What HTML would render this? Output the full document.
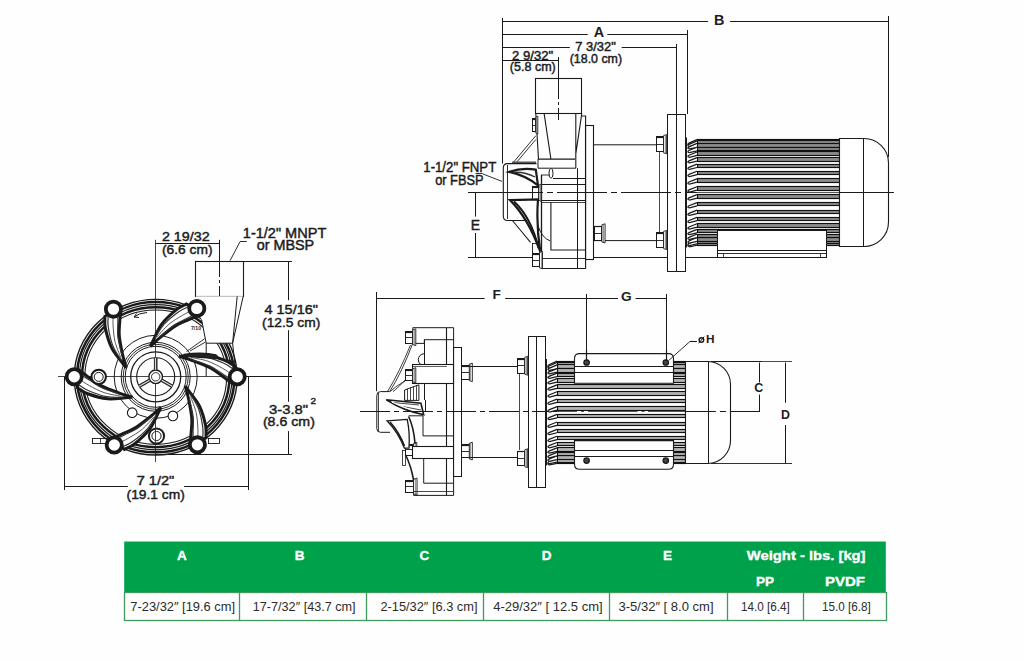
<!DOCTYPE html><html><head><meta charset="utf-8"><style>
html,body{margin:0;padding:0;background:#fff;}
body{width:1024px;height:662px;position:relative;overflow:hidden;font-family:"Liberation Sans",sans-serif;}
svg{position:absolute;left:0;top:0;}
</style></head><body>
<svg width="1024" height="662" viewBox="0 0 1024 662" font-family="Liberation Sans, sans-serif" stroke-linecap="butt">
<rect x="0" y="0" width="1024" height="662" fill="#fefefe"/>
<text x="719.1" y="24.6" font-size="14.4" font-weight="bold" text-anchor="middle" fill="#1c1c1c"  >B</text>
<text x="599" y="36.7" font-size="14.4" font-weight="bold" text-anchor="middle" fill="#1c1c1c"  >A</text>
<text x="595.5" y="50.8" font-size="12.5" font-weight="normal" text-anchor="middle" fill="#1c1c1c" stroke="#1c1c1c" stroke-width="0.45" textLength="40.6" lengthAdjust="spacingAndGlyphs">7 3/32&quot;</text>
<text x="595.9" y="62.9" font-size="12.5" font-weight="normal" text-anchor="middle" fill="#1c1c1c" stroke="#1c1c1c" stroke-width="0.45" textLength="52.3" lengthAdjust="spacingAndGlyphs">(18.0 cm)</text>
<text x="532.6" y="59.8" font-size="12.5" font-weight="normal" text-anchor="middle" fill="#1c1c1c" stroke="#1c1c1c" stroke-width="0.45" textLength="41" lengthAdjust="spacingAndGlyphs">2 9/32&quot;</text>
<text x="532.8" y="71.2" font-size="12.5" font-weight="normal" text-anchor="middle" fill="#1c1c1c" stroke="#1c1c1c" stroke-width="0.45" textLength="46" lengthAdjust="spacingAndGlyphs">(5.8 cm)</text>
<text x="423.3" y="171.7" font-size="14" font-weight="normal" text-anchor="start" fill="#1c1c1c" stroke="#1c1c1c" stroke-width="0.45" textLength="72.9" lengthAdjust="spacingAndGlyphs">1-1/2&quot; FNPT</text>
<text x="435.2" y="185.3" font-size="14" font-weight="normal" text-anchor="start" fill="#1c1c1c" stroke="#1c1c1c" stroke-width="0.45" textLength="48.3" lengthAdjust="spacingAndGlyphs">or FBSP</text>
<text x="475.5" y="229.8" font-size="14.6" font-weight="normal" text-anchor="middle" fill="#1c1c1c" stroke="#1c1c1c" stroke-width="0.45" textLength="9.3" lengthAdjust="spacingAndGlyphs">E</text>
<text x="185.8" y="240.8" font-size="13" font-weight="normal" text-anchor="middle" fill="#1c1c1c" stroke="#1c1c1c" stroke-width="0.45" textLength="47.7" lengthAdjust="spacingAndGlyphs">2 19/32</text>
<text x="187.3" y="253.8" font-size="13" font-weight="normal" text-anchor="middle" fill="#1c1c1c" stroke="#1c1c1c" stroke-width="0.45" textLength="50.6" lengthAdjust="spacingAndGlyphs">(6.6 cm)</text>
<text x="242.8" y="238" font-size="14" font-weight="normal" text-anchor="start" fill="#1c1c1c" stroke="#1c1c1c" stroke-width="0.45" textLength="83.5" lengthAdjust="spacingAndGlyphs">1-1/2&quot; MNPT</text>
<text x="256.7" y="250" font-size="14" font-weight="normal" text-anchor="start" fill="#1c1c1c" stroke="#1c1c1c" stroke-width="0.45" textLength="57.5" lengthAdjust="spacingAndGlyphs">or MBSP</text>
<text x="291.2" y="313.8" font-size="13.4" font-weight="normal" text-anchor="middle" fill="#1c1c1c" stroke="#1c1c1c" stroke-width="0.45" textLength="53.5" lengthAdjust="spacingAndGlyphs">4 15/16&quot;</text>
<text x="291.2" y="326.7" font-size="13.4" font-weight="normal" text-anchor="middle" fill="#1c1c1c" stroke="#1c1c1c" stroke-width="0.45" textLength="58.2" lengthAdjust="spacingAndGlyphs">(12.5 cm)</text>
<text x="269.1" y="413.5" font-size="13.4" font-weight="normal" text-anchor="start" fill="#1c1c1c" stroke="#1c1c1c" stroke-width="0.45" textLength="39" lengthAdjust="spacingAndGlyphs">3-3.8&quot;</text>
<text x="310.5" y="403.75" font-size="9" font-weight="normal" text-anchor="start" fill="#1c1c1c" stroke="#1c1c1c" stroke-width="0.45" textLength="5.5" lengthAdjust="spacingAndGlyphs">2</text>
<text x="262.9" y="426.4" font-size="13.4" font-weight="normal" text-anchor="start" fill="#1c1c1c" stroke="#1c1c1c" stroke-width="0.45" textLength="52" lengthAdjust="spacingAndGlyphs">(8.6 cm)</text>
<text x="155.5" y="484.9" font-size="13.4" font-weight="normal" text-anchor="middle" fill="#1c1c1c" stroke="#1c1c1c" stroke-width="0.45" textLength="37.5" lengthAdjust="spacingAndGlyphs">7 1/2&quot;</text>
<text x="155.7" y="498.6" font-size="13.4" font-weight="normal" text-anchor="middle" fill="#1c1c1c" stroke="#1c1c1c" stroke-width="0.45" textLength="58.2" lengthAdjust="spacingAndGlyphs">(19.1 cm)</text>
<text x="492.5" y="298.8" font-size="13.7" font-weight="bold" text-anchor="start" fill="#1c1c1c"  >F</text>
<text x="626.3" y="301" font-size="13.7" font-weight="bold" text-anchor="middle" fill="#1c1c1c"  >G</text>
<circle cx="701.4" cy="340" r="2.3" fill="none" stroke="#1a1a1a" stroke-width="1.4" />
<line x1="698.6" y1="343.3" x2="704.2" y2="336.7" stroke="#1a1a1a" stroke-width="1.0" />
<text x="705.9" y="342.7" font-size="11.8" font-weight="bold" text-anchor="start" fill="#1c1c1c"  >H</text>
<text x="758.8" y="392.2" font-size="12.4" font-weight="bold" text-anchor="middle" fill="#1c1c1c"  >C</text>
<text x="785.5" y="419.4" font-size="12.4" font-weight="bold" text-anchor="middle" fill="#1c1c1c"  >D</text>
<line x1="502.5" y1="18" x2="502.5" y2="163.5" stroke="#1a1a1a" stroke-width="1.0" />
<line x1="502.5" y1="21.5" x2="707.9" y2="21.5" stroke="#1a1a1a" stroke-width="1.0" />
<line x1="730.1" y1="21.5" x2="888.5" y2="21.5" stroke="#1a1a1a" stroke-width="1.0" />
<line x1="888.5" y1="16" x2="888.5" y2="157" stroke="#1a1a1a" stroke-width="1.0" />
<line x1="502.5" y1="34.5" x2="587.7" y2="34.5" stroke="#1a1a1a" stroke-width="1.0" />
<line x1="607.3" y1="34.5" x2="687" y2="34.5" stroke="#1a1a1a" stroke-width="1.0" />
<line x1="687.5" y1="30" x2="687.5" y2="114" stroke="#1a1a1a" stroke-width="1.0" />
<line x1="502.5" y1="47.5" x2="569.8" y2="47.5" stroke="#1a1a1a" stroke-width="1.0" />
<line x1="621.7" y1="47.5" x2="676.6" y2="47.5" stroke="#1a1a1a" stroke-width="1.0" />
<line x1="676.5" y1="44" x2="676.5" y2="271" stroke="#1a1a1a" stroke-width="1.0" />
<line x1="502.5" y1="60.5" x2="558.3" y2="60.5" stroke="#1a1a1a" stroke-width="1.0" />
<line x1="558.5" y1="57" x2="558.5" y2="78" stroke="#1a1a1a" stroke-width="1.0" />
<rect x="535.5" y="78.5" width="46" height="35" rx="0" fill="none" stroke="#1a1a1a" stroke-width="1.1" />
<line x1="558.5" y1="78" x2="558.5" y2="120" stroke="#1a1a1a" stroke-width="1.0" stroke-dasharray="21 3 3 3 14 100"/>
<path d="M535.8,113.3 L538.5,159.1 L575,159.1 M544.1,113.3 L550.9,159.1 M581.8,113.3 L575.8,153.8 M575.8,113.3 L575.8,168.2" fill="none" stroke="#1a1a1a" stroke-width="1.1" />
<path d="M581.8,116 L585.6,116 L585.6,268.8" fill="none" stroke="#1a1a1a" stroke-width="1.1" />
<rect x="585.5" y="125.5" width="8" height="134" rx="0" fill="none" stroke="#1a1a1a" stroke-width="1.1" />
<line x1="577.5" y1="168.2" x2="577.5" y2="268.8" stroke="#1a1a1a" stroke-width="1.0" />
<path d="M535.8,135.7 L512.4,163.6 M535.8,139.5 L515.5,163.6" fill="none" stroke="#1a1a1a" stroke-width="0.9" />
<line x1="512" y1="162.3" x2="536" y2="162.3" stroke="#555" stroke-width="1.6" />
<path d="M536.5,163.6 L507.5,163.6 Q503.3,163.6 503.3,167.8 L503.3,216.3 Q503.3,220.5 507.5,220.5 L525.2,220.5" fill="none" stroke="#1a1a1a" stroke-width="1.1" />
<line x1="507.5" y1="165" x2="507.5" y2="219" stroke="#1a1a1a" stroke-width="0.9" />
<path d="M538,159.1 L538,168.2 L549.4,168.2 L575.8,168.2" fill="none" stroke="#1a1a1a" stroke-width="1.0" />
<ellipse cx="551" cy="173.3" rx="2" ry="5" fill="#fff" stroke="#1a1a1a" stroke-width="1"/>
<line x1="553" y1="178.5" x2="585.6" y2="178.5" stroke="#1a1a1a" stroke-width="1.0" />
<path d="M541,175 L549.4,175" fill="none" stroke="#1a1a1a" stroke-width="0.9" />
<line x1="541.5" y1="175" x2="541.5" y2="268.8" stroke="#1a1a1a" stroke-width="1.3" />
<line x1="541.8" y1="184.5" x2="585.6" y2="184.5" stroke="#1a1a1a" stroke-width="1.0" />
<line x1="541.8" y1="200.5" x2="585.6" y2="200.5" stroke="#1a1a1a" stroke-width="1.0" />
<line x1="541.8" y1="202.5" x2="585.6" y2="202.5" stroke="#1a1a1a" stroke-width="0.8" />
<path d="M550.9,202.4 L550.9,250 L585.6,250" fill="none" stroke="#1a1a1a" stroke-width="1.1" />
<line x1="541.8" y1="258.5" x2="585.6" y2="258.5" stroke="#1a1a1a" stroke-width="0.9" />
<line x1="541.8" y1="268.5" x2="585.6" y2="268.5" stroke="#1a1a1a" stroke-width="1.2" />
<rect x="532.5" y="118.5" width="3" height="13" rx="0" fill="#fff" stroke="#1a1a1a" stroke-width="1.0" />
<line x1="532" y1="125.5" x2="535.8" y2="125.5" stroke="#1a1a1a" stroke-width="0.9" />
<line x1="532.3" y1="119.5" x2="535.5" y2="119.5" stroke="#1a1a1a" stroke-width="1.2" />
<path d="M535.8,117.1 L537.8,116.1 L537.8,134.1 L535.8,133.1 Z" fill="#fff" stroke="#1a1a1a" stroke-width="0.9" />
<line x1="536.5" y1="116.8" x2="536.5" y2="133.4" stroke="#555" stroke-width="0.6" />
<rect x="532.5" y="186.5" width="6" height="13" rx="0" fill="#fff" stroke="#1a1a1a" stroke-width="1.0" />
<line x1="532.7" y1="192.5" x2="538.8" y2="192.5" stroke="#1a1a1a" stroke-width="0.9" />
<line x1="533" y1="187.5" x2="538.5" y2="187.5" stroke="#1a1a1a" stroke-width="1.2" />
<path d="M538.8,185.1 L541.24,184.1 L541.24,201.3 L538.8,200.3 Z" fill="#fff" stroke="#1a1a1a" stroke-width="0.9" />
<line x1="540.5" y1="184.8" x2="540.5" y2="200.6" stroke="#555" stroke-width="0.6" />
<rect x="532.5" y="243.5" width="7" height="10" rx="0" fill="none" stroke="#1a1a1a" stroke-width="0.9" />
<rect x="532.5" y="253.5" width="7" height="13" rx="0" fill="#fff" stroke="#1a1a1a" stroke-width="1.0" />
<line x1="532" y1="260.5" x2="539.5" y2="260.5" stroke="#1a1a1a" stroke-width="0.9" />
<line x1="532.3" y1="254.5" x2="539.2" y2="254.5" stroke="#1a1a1a" stroke-width="1.2" />
<path d="M539.5,252.5 L542.5,251.5 L542.5,268.8 L539.5,267.8 Z" fill="#fff" stroke="#1a1a1a" stroke-width="0.9" />
<line x1="541.5" y1="252.2" x2="541.5" y2="268.1" stroke="#555" stroke-width="0.6" />
<path d="M509.3,171.9 Q522,167.5 535.8,169.7 L538,185.5 Q526,175.5 509.3,171.9 Z" fill="#fff" stroke="#1a1a1a" stroke-width="2.2" />
<path d="M513,172.3 Q525,171.5 535,177" fill="none" stroke="#333" stroke-width="1.4" />
<path d="M510.1,200.1 L538,199.4 Q536,225 540.3,251.5 Q528,218 510.1,200.1 Z" fill="#fff" stroke="#1a1a1a" stroke-width="2.2" />
<path d="M514,201.5 Q531,217 538.5,248" fill="none" stroke="#1a1a1a" stroke-width="2.0" />
<path d="M512.4,220.5 Q522,232 530.5,242.4" fill="none" stroke="#1a1a1a" stroke-width="1.1" />
<path d="M538,225.8 Q542,238 550.1,240.9" fill="none" stroke="#1a1a1a" stroke-width="1.0" />
<path d="M593.9,144.8 L656,144.8 M593.9,240.6 L656,240.6" fill="none" stroke="#1a1a1a" stroke-width="1.0" />
<line x1="659.5" y1="152" x2="659.5" y2="232" stroke="#1a1a1a" stroke-width="0.8" />
<rect x="656.5" y="136.5" width="7" height="15" rx="0" fill="#fff" stroke="#1a1a1a" stroke-width="1.0" />
<line x1="656" y1="144.5" x2="663.6" y2="144.5" stroke="#1a1a1a" stroke-width="0.9" />
<line x1="656.3" y1="137.5" x2="663.3" y2="137.5" stroke="#1a1a1a" stroke-width="1.2" />
<path d="M663.6,135.6 L666.64,134.6 L666.64,153.8 L663.6,152.8 Z" fill="#fff" stroke="#1a1a1a" stroke-width="0.9" />
<line x1="665.5" y1="135.3" x2="665.5" y2="153.1" stroke="#555" stroke-width="0.6" />
<rect x="656.5" y="232.5" width="7" height="15" rx="0" fill="#fff" stroke="#1a1a1a" stroke-width="1.0" />
<line x1="656" y1="240.5" x2="663.6" y2="240.5" stroke="#1a1a1a" stroke-width="0.9" />
<line x1="656.3" y1="233.5" x2="663.3" y2="233.5" stroke="#1a1a1a" stroke-width="1.2" />
<path d="M663.6,231.4 L666.64,230.4 L666.64,249.6 L663.6,248.6 Z" fill="#fff" stroke="#1a1a1a" stroke-width="0.9" />
<line x1="665.5" y1="231.1" x2="665.5" y2="248.9" stroke="#555" stroke-width="0.6" />
<rect x="594.5" y="226.5" width="7" height="14" rx="0" fill="#fff" stroke="#1a1a1a" stroke-width="1.0" />
<line x1="594" y1="233.5" x2="601.9" y2="233.5" stroke="#1a1a1a" stroke-width="0.9" />
<line x1="594.3" y1="226.5" x2="601.6" y2="226.5" stroke="#1a1a1a" stroke-width="1.2" />
<path d="M601.9,224.8 L605.06,223.8 L605.06,243 L601.9,242 Z" fill="#fff" stroke="#1a1a1a" stroke-width="0.9" />
<line x1="603.5" y1="224.5" x2="603.5" y2="242.3" stroke="#555" stroke-width="0.6" />
<rect x="667.5" y="114.5" width="18" height="157" rx="0" fill="none" stroke="#1a1a1a" stroke-width="1.0" />
<line x1="493" y1="192.5" x2="686" y2="192.5" stroke="#1a1a1a" stroke-width="1.0" stroke-dasharray="50 4 6 4"/>
<line x1="686" y1="192.5" x2="893.7" y2="192.5" stroke="#1a1a1a" stroke-width="1.0" />
<line x1="475.5" y1="192.7" x2="475.5" y2="216.6" stroke="#1a1a1a" stroke-width="1.0" />
<line x1="475.5" y1="233" x2="475.5" y2="257.3" stroke="#1a1a1a" stroke-width="1.0" />
<line x1="468" y1="192.5" x2="493" y2="192.5" stroke="#1a1a1a" stroke-width="1.0" />
<line x1="468" y1="257.5" x2="532.4" y2="257.5" stroke="#1a1a1a" stroke-width="1.0" />
<line x1="593.9" y1="257.5" x2="667.5" y2="257.5" stroke="#1a1a1a" stroke-width="1.0" />
<line x1="685.4" y1="257.5" x2="717" y2="257.5" stroke="#1a1a1a" stroke-width="1.0" />
<line x1="475.6" y1="173.5" x2="482.7" y2="173.5" stroke="#1a1a1a" stroke-width="0.9" />
<line x1="482.7" y1="173.9" x2="502" y2="181.4" stroke="#1a1a1a" stroke-width="0.9" />
<rect x="697.5" y="139.5" width="142" height="4" rx="0" fill="#8c8c8c" stroke="#111" stroke-width="1.15" />
<path d="M697,139.56 L689,143.16 Q686.5,144.66 689.5,145.26 L697,143.75" fill="#fff" stroke="#1a1a1a" stroke-width="1.25" />
<rect x="697.5" y="241.5" width="142" height="4" rx="0" fill="#8c8c8c" stroke="#111" stroke-width="1.15" />
<path d="M697,241.05 L689,244.64 Q686.5,246.14 689.5,246.74 L697,245.24" fill="#fff" stroke="#1a1a1a" stroke-width="1.25" />
<rect x="697.5" y="140.5" width="142" height="4" rx="0" fill="#8c8c8c" stroke="#111" stroke-width="1.15" />
<path d="M697,140.86 L689,144.41 Q686.5,145.91 689.5,146.51 L697,144.95" fill="#fff" stroke="#1a1a1a" stroke-width="1.25" />
<rect x="697.5" y="239.5" width="142" height="4" rx="0" fill="#8c8c8c" stroke="#111" stroke-width="1.15" />
<path d="M697,239.85 L689,243.39 Q686.5,244.89 689.5,245.49 L697,243.94" fill="#fff" stroke="#1a1a1a" stroke-width="1.25" />
<rect x="697.5" y="143.5" width="142" height="4" rx="0" fill="#8c8c8c" stroke="#111" stroke-width="1.15" />
<path d="M697,143.43 L689,146.87 Q686.5,148.37 689.5,148.97 L697,147.31" fill="#fff" stroke="#1a1a1a" stroke-width="1.25" />
<rect x="697.5" y="237.5" width="142" height="4" rx="0" fill="#8c8c8c" stroke="#111" stroke-width="1.15" />
<path d="M697,237.49 L689,240.93 Q686.5,242.43 689.5,243.03 L697,241.37" fill="#fff" stroke="#1a1a1a" stroke-width="1.25" />
<rect x="697.5" y="147.5" width="142" height="3" rx="0" fill="#8c8c8c" stroke="#111" stroke-width="1.15" />
<path d="M697,147.21 L689,150.5 Q686.5,152 689.5,152.6 L697,150.79" fill="#fff" stroke="#1a1a1a" stroke-width="1.25" />
<rect x="697.5" y="234.5" width="142" height="3" rx="0" fill="#8c8c8c" stroke="#111" stroke-width="1.15" />
<path d="M697,234.01 L689,237.3 Q686.5,238.8 689.5,239.4 L697,237.59" fill="#fff" stroke="#1a1a1a" stroke-width="1.25" />
<rect x="697.5" y="151.5" width="142" height="4" rx="0" fill="#8c8c8c" stroke="#111" stroke-width="1.15" />
<path d="M697,152 L689,155.2 Q686.5,156.7 689.5,157.3 L697,155.4" fill="#fff" stroke="#1a1a1a" stroke-width="1.25" />
<rect x="697.5" y="229.5" width="142" height="3" rx="0" fill="#8c8c8c" stroke="#111" stroke-width="1.15" />
<path d="M697,229.4 L689,232.6 Q686.5,234.1 689.5,234.7 L697,232.8" fill="#fff" stroke="#1a1a1a" stroke-width="1.25" />
<rect x="697.5" y="157.5" width="142" height="4" rx="0" fill="#8c8c8c" stroke="#111" stroke-width="1.15" />
<path d="M697,157.64 L689,160.84 Q686.5,162.34 689.5,162.94 L697,161.04" fill="#fff" stroke="#1a1a1a" stroke-width="1.25" />
<rect x="697.5" y="223.5" width="142" height="4" rx="0" fill="#8c8c8c" stroke="#111" stroke-width="1.15" />
<path d="M697,223.76 L689,226.96 Q686.5,228.46 689.5,229.06 L697,227.16" fill="#fff" stroke="#1a1a1a" stroke-width="1.25" />
<rect x="697.5" y="164.5" width="142" height="3" rx="0" fill="#8c8c8c" stroke="#111" stroke-width="1.15" />
<path d="M697,164.1 L689,167.3 Q686.5,168.8 689.5,169.4 L697,167.5" fill="#fff" stroke="#1a1a1a" stroke-width="1.25" />
<rect x="697.5" y="217.5" width="142" height="3" rx="0" fill="#8c8c8c" stroke="#111" stroke-width="1.15" />
<path d="M697,217.3 L689,220.5 Q686.5,222 689.5,222.6 L697,220.7" fill="#fff" stroke="#1a1a1a" stroke-width="1.25" />
<rect x="697.5" y="171.5" width="142" height="3" rx="0" fill="#8c8c8c" stroke="#111" stroke-width="1.15" />
<path d="M697,171.22 L689,174.42 Q686.5,175.92 689.5,176.52 L697,174.62" fill="#fff" stroke="#1a1a1a" stroke-width="1.25" />
<rect x="697.5" y="210.5" width="142" height="3" rx="0" fill="#8c8c8c" stroke="#111" stroke-width="1.15" />
<path d="M697,210.18 L689,213.38 Q686.5,214.88 689.5,215.48 L697,213.58" fill="#fff" stroke="#1a1a1a" stroke-width="1.25" />
<rect x="697.5" y="178.5" width="142" height="4" rx="0" fill="#8c8c8c" stroke="#111" stroke-width="1.15" />
<path d="M697,178.82 L689,182.02 Q686.5,183.52 689.5,184.12 L697,182.22" fill="#fff" stroke="#1a1a1a" stroke-width="1.25" />
<rect x="697.5" y="202.5" width="142" height="3" rx="0" fill="#8c8c8c" stroke="#111" stroke-width="1.15" />
<path d="M697,202.58 L689,205.78 Q686.5,207.28 689.5,207.88 L697,205.98" fill="#fff" stroke="#1a1a1a" stroke-width="1.25" />
<rect x="697.5" y="186.5" width="142" height="4" rx="0" fill="#8c8c8c" stroke="#111" stroke-width="1.15" />
<path d="M697,186.71 L689,189.91 Q686.5,191.41 689.5,192.01 L697,190.11" fill="#fff" stroke="#1a1a1a" stroke-width="1.25" />
<rect x="697.5" y="194.5" width="142" height="4" rx="0" fill="#8c8c8c" stroke="#111" stroke-width="1.15" />
<path d="M697,194.69 L689,197.89 Q686.5,199.39 689.5,199.99 L697,198.09" fill="#fff" stroke="#1a1a1a" stroke-width="1.25" />
<line x1="686" y1="137.4" x2="686" y2="247.4" stroke="#1a1a1a" stroke-width="2.0" />
<line x1="697" y1="192.5" x2="839.3" y2="192.5" stroke="#555" stroke-width="1.2" />
<rect x="717.5" y="230.5" width="109" height="27" rx="0" fill="#fff" stroke="#1a1a1a" stroke-width="1.0" />
<line x1="717" y1="250.5" x2="826.6" y2="250.5" stroke="#1a1a1a" stroke-width="1.0" />
<line x1="717" y1="253.5" x2="826.6" y2="253.5" stroke="#1a1a1a" stroke-width="0.9" />
<line x1="723.5" y1="253.6" x2="723.5" y2="257.5" stroke="#1a1a1a" stroke-width="0.8" />
<line x1="820.5" y1="253.6" x2="820.5" y2="257.5" stroke="#1a1a1a" stroke-width="0.8" />
<path d="M839.5,138.5 L864,138.5 A24.5,24.5 0 0 1 888.5,163 L888.5,222 A24.5,24.5 0 0 1 864,246.5 L839.5,246.5 Z" fill="#fff" stroke="#1a1a1a" stroke-width="1.1" />
<line x1="863.5" y1="138.6" x2="863.5" y2="246.2" stroke="#1a1a1a" stroke-width="1.0" />
<line x1="839.3" y1="192.5" x2="893.7" y2="192.5" stroke="#1a1a1a" stroke-width="1.0" />
<line x1="58" y1="376.5" x2="262" y2="376.5" stroke="#333" stroke-width="0.9" />
<line x1="155.5" y1="239.8" x2="155.5" y2="462" stroke="#333" stroke-width="0.9" />
<line x1="155.6" y1="243.5" x2="219.6" y2="243.5" stroke="#1a1a1a" stroke-width="1.0" />
<line x1="219.5" y1="239.8" x2="219.5" y2="262" stroke="#1a1a1a" stroke-width="1.0" />
<line x1="219.5" y1="262" x2="219.5" y2="305" stroke="#1a1a1a" stroke-width="1.0" stroke-dasharray="15 3 3 3 100 1"/>
<line x1="246.8" y1="241.5" x2="240" y2="241.5" stroke="#1a1a1a" stroke-width="0.9" />
<line x1="240" y1="241.7" x2="230.1" y2="260.6" stroke="#1a1a1a" stroke-width="0.9" />
<line x1="242.2" y1="261.5" x2="292" y2="261.5" stroke="#1a1a1a" stroke-width="1.0" />
<line x1="288.5" y1="261.5" x2="288.5" y2="300.2" stroke="#1a1a1a" stroke-width="1.0" />
<line x1="288.5" y1="330.2" x2="288.5" y2="401.8" stroke="#1a1a1a" stroke-width="1.0" />
<line x1="288.5" y1="431.1" x2="288.5" y2="454.6" stroke="#1a1a1a" stroke-width="1.0" />
<line x1="238" y1="376.5" x2="292" y2="376.5" stroke="#1a1a1a" stroke-width="1.0" />
<line x1="155" y1="454.5" x2="292" y2="454.5" stroke="#1a1a1a" stroke-width="1.0" />
<line x1="64.5" y1="376.8" x2="64.5" y2="490" stroke="#1a1a1a" stroke-width="1.0" />
<line x1="248.5" y1="376.8" x2="248.5" y2="490" stroke="#1a1a1a" stroke-width="1.0" />
<line x1="64" y1="486.5" x2="127.8" y2="486.5" stroke="#1a1a1a" stroke-width="1.0" />
<line x1="184.1" y1="486.5" x2="248.3" y2="486.5" stroke="#1a1a1a" stroke-width="1.0" />
<circle cx="155.7" cy="376.8" r="41.5" fill="none" stroke="#1a1a1a" stroke-width="1.0" />
<circle cx="155.7" cy="376.8" r="34.5" fill="none" stroke="#1a1a1a" stroke-width="1.0" />
<circle cx="155.7" cy="376.8" r="32.5" fill="none" stroke="#1a1a1a" stroke-width="0.9" />
<circle cx="155.7" cy="376.8" r="30.5" fill="none" stroke="#1a1a1a" stroke-width="1.0" />
<circle cx="155.7" cy="376.8" r="25" fill="none" stroke="#1a1a1a" stroke-width="1.3" />
<circle cx="155.7" cy="376.8" r="19" fill="none" stroke="#1a1a1a" stroke-width="1.1" />
<circle cx="155.7" cy="376.8" r="6.8" fill="#fff" stroke="#1a1a1a" stroke-width="1.4" />
<circle cx="155.7" cy="376.8" r="4.2" fill="none" stroke="#1a1a1a" stroke-width="0.9" />
<line x1="155.7" y1="369.8" x2="155.7" y2="357.8" stroke="#222" stroke-width="3.6" />
<line x1="155.5" y1="369.8" x2="155.5" y2="357.8" stroke="#ddd" stroke-width="1.2" />
<line x1="161.76" y1="380.3" x2="172.15" y2="386.3" stroke="#222" stroke-width="3.6" />
<line x1="161.76" y1="380.3" x2="172.15" y2="386.3" stroke="#ddd" stroke-width="1.2" />
<line x1="149.64" y1="380.3" x2="139.25" y2="386.3" stroke="#222" stroke-width="3.6" />
<line x1="149.64" y1="380.3" x2="139.25" y2="386.3" stroke="#ddd" stroke-width="1.2" />
<ellipse cx="155.7" cy="377.2" rx="81.5" ry="77.8" fill="none" stroke="#1a1a1a" stroke-width="1.4"/>
<ellipse cx="155.7" cy="377.2" rx="78.8" ry="75.1" fill="none" stroke="#1a1a1a" stroke-width="2.5"/>
<ellipse cx="155.7" cy="377.2" rx="76.3" ry="72.6" fill="none" stroke="#1a1a1a" stroke-width="1.2"/>
<ellipse cx="155.7" cy="377.2" rx="73.7" ry="70" fill="none" stroke="#1a1a1a" stroke-width="2.5"/>
<ellipse cx="155.7" cy="377.2" rx="70.9" ry="67.2" fill="none" stroke="#1a1a1a" stroke-width="1.1"/>
<rect x="195.5" y="261.5" width="48" height="35" rx="0" fill="none" stroke="#1a1a1a" stroke-width="1.1" />
<path d="M195.9,296.3 L243.2,296.3 L232.6,343.2 L206.2,343.2 L201.6,319.8 L195.9,300 Z" fill="#fefefe" stroke="none" stroke-width="0" />
<path d="M243.2,296.3 L232.6,343.2 M237.2,296.3 L232.6,343.2 L206.2,343.2 L201.6,319.8 M206.2,343.2 L206.2,376.5 M232.6,343.2 L235,365" fill="none" stroke="#1a1a1a" stroke-width="1.0" />
<path d="M186.5,351.5 L204.7,338.7 M190,351 L205.5,342" fill="none" stroke="#1a1a1a" stroke-width="0.9" />
<path d="M232.41,383.51 C230.62,382.2 225.43,378.28 221.69,375.65 C217.95,373.02 214.85,370.24 209.95,367.72 C205.04,365.2 197.38,362.41 192.24,360.53 C187.1,358.65 181.29,357.14 179.1,356.46 L179.1,356.46 C180.28,356.36 182.05,356.12 186.19,355.84 C190.33,355.57 197.69,354.15 203.93,354.82 C210.17,355.49 218.62,358.03 223.62,359.87 C228.62,361.7 232.21,364.82 233.93,365.81 Z" fill="#fff" stroke="#1a1a1a" stroke-width="3.0" />
<path d="M232.67,374.78 C230.92,373.66 226.35,370.35 222.13,368.05 C217.9,365.76 212.58,362.79 207.34,361.01 C202.1,359.24 193.46,358.01 190.68,357.41" fill="none" stroke="#444" stroke-width="0.9" />
<path d="M232.63,380.16 C230.79,379.02 225.45,375.73 221.61,373.35 C217.77,370.96 214.56,368.13 209.6,365.83 C204.63,363.54 194.77,360.62 191.8,359.58" fill="none" stroke="#333" stroke-width="1.2" />
<path d="M233.34,369.32 C231.67,368.28 228.06,365.11 223.31,363.04 C218.56,360.98 210.77,358.06 204.84,356.95 C198.91,355.84 190.6,356.48 187.75,356.38" fill="none" stroke="#333" stroke-width="1.2" />
<path d="M190.06,445.71 C190.24,443.5 190.87,437.03 191.16,432.46 C191.45,427.9 192.2,423.81 191.78,418.31 C191.37,412.81 189.75,404.82 188.67,399.46 C187.58,394.09 185.83,388.34 185.27,386.12 L185.27,386.12 C185.97,387.08 187.11,388.46 189.5,391.85 C191.9,395.24 196.95,400.77 199.64,406.44 C202.33,412.11 204.58,420.64 205.63,425.86 C206.68,431.08 205.9,435.78 205.95,437.76 Z" fill="#fff" stroke="#1a1a1a" stroke-width="3.0" />
<path d="M197.64,441.38 C197.68,439.29 198.11,433.67 197.86,428.87 C197.62,424.07 197.37,417.98 196.14,412.58 C194.92,407.19 191.45,399.18 190.51,396.5" fill="none" stroke="#444" stroke-width="0.9" />
<path d="M193.03,444.15 C193.04,441.99 193.05,435.71 193.08,431.19 C193.11,426.67 193.85,422.46 193.21,417.02 C192.57,411.59 189.91,401.66 189.25,398.59" fill="none" stroke="#333" stroke-width="1.2" />
<path d="M202.64,439.09 C202.66,437.12 203.48,432.39 202.76,427.26 C202.04,422.14 200.46,413.96 198.3,408.33 C196.15,402.69 191.26,395.94 189.85,393.46" fill="none" stroke="#333" stroke-width="1.2" />
<path d="M110.11,438.86 C112.16,438.01 118.21,435.62 122.4,433.78 C126.59,431.95 130.57,430.75 135.27,427.87 C139.98,424.98 146.34,419.89 150.62,416.48 C154.89,413.06 159.21,408.88 160.92,407.36 L160.92,407.36 C160.4,408.42 159.68,410.06 157.77,413.74 C155.85,417.42 153.24,424.45 149.42,429.43 C145.61,434.41 139.05,440.31 134.88,443.63 C130.72,446.95 126.19,448.4 124.45,449.36 Z" fill="#fff" stroke="#1a1a1a" stroke-width="3.0" />
<path d="M117.43,443.62 C119.3,442.7 124.51,440.52 128.66,438.1 C132.82,435.69 138.12,432.68 142.36,429.13 C146.6,425.57 152.14,418.83 154.09,416.77" fill="none" stroke="#444" stroke-width="0.9" />
<path d="M112.87,440.79 C114.79,439.81 120.38,436.95 124.41,434.91 C128.44,432.87 132.53,431.6 137.07,428.55 C141.61,425.5 149.23,418.59 151.66,416.6" fill="none" stroke="#333" stroke-width="1.2" />
<path d="M121.75,447.02 C123.51,446.14 128.1,444.71 132.33,441.72 C136.56,438.73 143.11,433.59 147.13,429.1 C151.16,424.62 154.94,417.18 156.5,414.79" fill="none" stroke="#333" stroke-width="1.2" />
<path d="M78.99,370.09 C80.78,371.4 85.97,375.32 89.71,377.95 C93.45,380.58 96.55,383.36 101.45,385.88 C106.36,388.4 114.02,391.19 119.16,393.07 C124.3,394.95 130.11,396.46 132.3,397.14 L132.3,397.14 C131.12,397.24 129.35,397.48 125.21,397.76 C121.07,398.03 113.71,399.45 107.47,398.78 C101.23,398.11 92.78,395.57 87.78,393.73 C82.78,391.9 79.19,388.78 77.47,387.79 Z" fill="#fff" stroke="#1a1a1a" stroke-width="3.0" />
<path d="M78.73,378.82 C80.48,379.94 85.05,383.25 89.27,385.55 C93.5,387.84 98.82,390.81 104.06,392.59 C109.3,394.36 117.94,395.59 120.72,396.19" fill="none" stroke="#444" stroke-width="0.9" />
<path d="M78.77,373.44 C80.61,374.58 85.95,377.87 89.79,380.25 C93.63,382.64 96.84,385.47 101.8,387.77 C106.77,390.06 116.63,392.98 119.6,394.02" fill="none" stroke="#333" stroke-width="1.2" />
<path d="M78.06,384.28 C79.73,385.32 83.34,388.49 88.09,390.56 C92.84,392.62 100.63,395.54 106.56,396.65 C112.49,397.76 120.8,397.12 123.65,397.22" fill="none" stroke="#333" stroke-width="1.2" />
<path d="M120.74,308.19 C120.58,310.4 120,316.88 119.75,321.45 C119.51,326.02 118.79,330.11 119.26,335.61 C119.72,341.1 121.41,349.08 122.54,354.43 C123.67,359.79 125.47,365.52 126.05,367.74 L126.05,367.74 C125.34,366.79 124.19,365.41 121.77,362.05 C119.34,358.68 114.24,353.19 111.5,347.55 C108.77,341.9 106.44,333.38 105.35,328.17 C104.25,322.96 104.99,318.26 104.92,316.28 Z" fill="#fff" stroke="#1a1a1a" stroke-width="3.0" />
<path d="M113.2,312.59 C113.18,314.68 112.79,320.3 113.08,325.1 C113.37,329.9 113.67,335.99 114.95,341.37 C116.22,346.76 119.75,354.74 120.72,357.41" fill="none" stroke="#444" stroke-width="0.9" />
<path d="M117.78,309.78 C117.79,311.94 117.83,318.22 117.84,322.74 C117.85,327.26 117.15,331.48 117.84,336.9 C118.53,342.33 121.28,352.24 121.96,355.31" fill="none" stroke="#333" stroke-width="1.2" />
<path d="M108.22,314.92 C108.21,316.89 107.44,321.63 108.2,326.75 C108.97,331.87 110.62,340.03 112.82,345.65 C115.02,351.26 119.97,357.98 121.4,360.44" fill="none" stroke="#333" stroke-width="1.2" />
<path d="M200.96,314.51 C198.92,315.36 192.88,317.79 188.7,319.64 C184.52,321.5 180.55,322.72 175.86,325.63 C171.17,328.54 164.83,333.66 160.57,337.1 C156.32,340.54 152.03,344.74 150.32,346.27 L150.32,346.27 C150.84,345.2 151.54,343.56 153.44,339.87 C155.34,336.18 157.91,329.14 161.7,324.14 C165.49,319.14 172.02,313.2 176.17,309.86 C180.31,306.52 184.83,305.04 186.57,304.08 Z" fill="#fff" stroke="#1a1a1a" stroke-width="3.0" />
<path d="M193.62,309.78 C191.75,310.71 186.56,312.92 182.42,315.36 C178.27,317.79 172.98,320.83 168.76,324.4 C164.54,327.98 159.04,334.75 157.1,336.82" fill="none" stroke="#444" stroke-width="0.9" />
<path d="M198.2,312.59 C196.28,313.58 190.71,316.46 186.69,318.53 C182.66,320.59 178.58,321.88 174.06,324.95 C169.53,328.03 161.95,334.98 159.53,336.98" fill="none" stroke="#333" stroke-width="1.2" />
<path d="M189.28,306.4 C187.52,307.29 182.95,308.75 178.73,311.76 C174.52,314.77 168,319.94 163.99,324.45 C159.99,328.96 156.25,336.42 154.71,338.81" fill="none" stroke="#333" stroke-width="1.2" />
<circle cx="237.2" cy="376.8" r="7.6" fill="#fff" stroke="#1a1a1a" stroke-width="3.8" />
<circle cx="197.4" cy="444.84" r="7.6" fill="#fff" stroke="#1a1a1a" stroke-width="3.8" />
<circle cx="114.24" cy="444.99" r="7.6" fill="#fff" stroke="#1a1a1a" stroke-width="3.8" />
<circle cx="74.2" cy="376.8" r="7.6" fill="#fff" stroke="#1a1a1a" stroke-width="3.8" />
<circle cx="113.41" cy="309.13" r="7.6" fill="#fff" stroke="#1a1a1a" stroke-width="3.8" />
<circle cx="196.8" cy="308.4" r="7.6" fill="#fff" stroke="#1a1a1a" stroke-width="3.8" />
<circle cx="98.7" cy="376.9" r="7.2" fill="#fff" stroke="#1a1a1a" stroke-width="2.0" />
<circle cx="98.7" cy="376.9" r="4.5" fill="none" stroke="#1a1a1a" stroke-width="1.0" />
<circle cx="156.5" cy="436" r="7.6" fill="#fff" stroke="#1a1a1a" stroke-width="2.0" />
<circle cx="156.5" cy="436" r="4.6" fill="none" stroke="#1a1a1a" stroke-width="1.0" />
<circle cx="132.2" cy="412.7" r="4.8" fill="#fff" stroke="#1a1a1a" stroke-width="1.1" />
<circle cx="172.9" cy="415.9" r="4.8" fill="#fff" stroke="#1a1a1a" stroke-width="1.1" />
<line x1="155.5" y1="425" x2="155.5" y2="447" stroke="#333" stroke-width="0.9" />
<path d="M134,317 Q139,313 147,312.5 M134,317 L139,317.5 M134,317 L136.5,313.5" fill="none" stroke="#1a1a1a" stroke-width="1.0" />
<rect x="92.5" y="438.5" width="16" height="5" rx="0" fill="none" stroke="#1a1a1a" stroke-width="0.9" />
<line x1="100.5" y1="438" x2="100.5" y2="443" stroke="#1a1a1a" stroke-width="0.8" />
<rect x="208.5" y="438.5" width="11" height="5" rx="0" fill="none" stroke="#1a1a1a" stroke-width="0.9" />
<path d="M184,354.5 Q202,351.5 216,355 Q220,357.5 215,358.3 Q200,357.5 184,356 Z" fill="#222" stroke="#1a1a1a" stroke-width="1.3" />
<path d="M228.5,360 Q233,362 236,368" fill="none" stroke="#1a1a1a" stroke-width="2.2" />
<text x="191" y="330" font-size="5.5" font-weight="bold" fill="#222" textLength="10" lengthAdjust="spacingAndGlyphs">7/10</text>
<line x1="376.5" y1="292" x2="376.5" y2="391.2" stroke="#1a1a1a" stroke-width="1.0" />
<line x1="376.7" y1="298.5" x2="484.7" y2="298.5" stroke="#1a1a1a" stroke-width="1.0" />
<line x1="505.2" y1="298.5" x2="618" y2="298.5" stroke="#1a1a1a" stroke-width="1.0" />
<line x1="635.6" y1="298.5" x2="666.1" y2="298.5" stroke="#1a1a1a" stroke-width="1.0" />
<line x1="586.5" y1="294" x2="586.5" y2="362" stroke="#1a1a1a" stroke-width="1.0" />
<line x1="666.5" y1="294" x2="666.5" y2="362" stroke="#1a1a1a" stroke-width="1.0" />
<path d="M389.7,391.6 L380.5,391.6 Q376.8,391.6 376.8,395.5 L376.8,428.5 Q376.8,432.3 380.5,432.3 L390,432.3" fill="none" stroke="#1a1a1a" stroke-width="1.0" />
<line x1="378.5" y1="393" x2="378.5" y2="431" stroke="#1a1a1a" stroke-width="0.8" />
<path d="M412.8,331 L412.8,327.7 L453.6,327.7 L453.6,495.4 L413.6,495.4 L413.6,492.6" fill="none" stroke="#1a1a1a" stroke-width="1.0" />
<line x1="446.5" y1="327.7" x2="446.5" y2="495.4" stroke="#1a1a1a" stroke-width="1.1" />
<path d="M412.8,343.4 L424.3,343.4 L424.3,339.7 L453.6,339.7" fill="none" stroke="#1a1a1a" stroke-width="1.0" />
<line x1="424.5" y1="339.7" x2="424.5" y2="364.4" stroke="#1a1a1a" stroke-width="1.0" />
<path d="M424.3,353.7 A6,6 0 0 0 424.3,365.7" fill="none" stroke="#1a1a1a" stroke-width="1.0" />
<rect x="412.5" y="364.5" width="41" height="19" rx="0" fill="#fff" stroke="#1a1a1a" stroke-width="1.1" />
<line x1="412.8" y1="366.5" x2="446.8" y2="366.5" stroke="#1a1a1a" stroke-width="0.7" />
<rect x="453.5" y="347.5" width="8" height="129" rx="0" fill="none" stroke="#1a1a1a" stroke-width="1.0" />
<rect x="405.5" y="331.5" width="7" height="12" rx="0" fill="#fff" stroke="#1a1a1a" stroke-width="1.0" />
<line x1="405.3" y1="337.5" x2="412.8" y2="337.5" stroke="#1a1a1a" stroke-width="0.9" />
<line x1="405.6" y1="332.5" x2="412.5" y2="332.5" stroke="#1a1a1a" stroke-width="1.2" />
<path d="M412.8,329.9 L415.8,328.9 L415.8,345.6 L412.8,344.6 Z" fill="#fff" stroke="#1a1a1a" stroke-width="0.9" />
<line x1="414.5" y1="329.6" x2="414.5" y2="344.9" stroke="#555" stroke-width="0.6" />
<rect x="405.5" y="369.5" width="7" height="11" rx="0" fill="#fff" stroke="#1a1a1a" stroke-width="1.0" />
<line x1="405.3" y1="375.5" x2="412.8" y2="375.5" stroke="#1a1a1a" stroke-width="0.9" />
<line x1="405.6" y1="370.5" x2="412.5" y2="370.5" stroke="#1a1a1a" stroke-width="1.2" />
<path d="M412.8,368.7 L415.8,367.7 L415.8,382.9 L412.8,381.9 Z" fill="#fff" stroke="#1a1a1a" stroke-width="0.9" />
<line x1="414.5" y1="368.4" x2="414.5" y2="382.2" stroke="#555" stroke-width="0.6" />
<rect x="405.5" y="444.5" width="8" height="11" rx="0" fill="#fff" stroke="#1a1a1a" stroke-width="1.0" />
<line x1="405.7" y1="449.5" x2="413.6" y2="449.5" stroke="#1a1a1a" stroke-width="0.9" />
<line x1="406" y1="445.5" x2="413.3" y2="445.5" stroke="#1a1a1a" stroke-width="1.2" />
<path d="M413.6,443.3 L416.76,442.3 L416.76,457.4 L413.6,456.4 Z" fill="#fff" stroke="#1a1a1a" stroke-width="0.9" />
<line x1="415.5" y1="443" x2="415.5" y2="456.7" stroke="#555" stroke-width="0.6" />
<rect x="405.5" y="480.5" width="8" height="12" rx="0" fill="#fff" stroke="#1a1a1a" stroke-width="1.0" />
<line x1="405" y1="486.5" x2="413.6" y2="486.5" stroke="#1a1a1a" stroke-width="0.9" />
<line x1="405.3" y1="481.5" x2="413.3" y2="481.5" stroke="#1a1a1a" stroke-width="1.2" />
<path d="M413.6,479.2 L417.04,478.2 L417.04,494.8 L413.6,493.8 Z" fill="#fff" stroke="#1a1a1a" stroke-width="0.9" />
<line x1="415.5" y1="478.9" x2="415.5" y2="494.1" stroke="#555" stroke-width="0.6" />
<path d="M412.5,344 Q402,372 389.7,391.6 M410.5,345 Q399,373 387.5,391.6 M405,381 Q396,386 390,391.6 M406,379 Q398,388 393,391.6" fill="none" stroke="#1a1a1a" stroke-width="0.85" />
<path d="M404.6,390 L418.9,384.8 L418.9,400.4 L404.6,400.4 Z" fill="#fff" stroke="#1a1a1a" stroke-width="1.0" />
<line x1="407.5" y1="388.64" x2="407.5" y2="400" stroke="#1a1a1a" stroke-width="0.8" />
<line x1="410.5" y1="387.56" x2="410.5" y2="400" stroke="#1a1a1a" stroke-width="0.8" />
<line x1="413.5" y1="386.48" x2="413.5" y2="400" stroke="#1a1a1a" stroke-width="0.8" />
<line x1="416.5" y1="385.4" x2="416.5" y2="400" stroke="#1a1a1a" stroke-width="0.8" />
<line x1="424.5" y1="383.5" x2="424.5" y2="400" stroke="#1a1a1a" stroke-width="1.0" />
<line x1="425.5" y1="400" x2="425.5" y2="411.5" stroke="#1a1a1a" stroke-width="1.0" />
<path d="M386.3,399.8 L420.9,403.2 L423.7,414.7 Q404,411 386.3,399.8 Z" fill="#fff" stroke="#1a1a1a" stroke-width="1.6" />
<path d="M393,402.5 L419,405 M400,406 L421,410" fill="none" stroke="#333" stroke-width="0.9" />
<path d="M392,402 Q402,407 412,410" fill="none" stroke="#fff" stroke-width="1.2" />
<path d="M387,420.8 L407.2,419.4 Q410,432 409,448 L404.3,448.1 Q398,432 387,420.8 Z" fill="#fff" stroke="#1a1a1a" stroke-width="1.3" />
<path d="M390,422 Q399,432 404.5,446" fill="none" stroke="#1a1a1a" stroke-width="1.6" />
<path d="M408.6,416.5 Q414,428 415,443.8" fill="none" stroke="#1a1a1a" stroke-width="1.6" />
<path d="M408.6,415.8 L423,415.8 L423,435.9 L453.1,435.9" fill="none" stroke="#1a1a1a" stroke-width="1.0" />
<rect x="412.5" y="446.5" width="41" height="12" rx="0" fill="#fff" stroke="#1a1a1a" stroke-width="1.1" />
<rect x="402.5" y="450.5" width="3" height="15" rx="0" fill="none" stroke="#1a1a1a" stroke-width="0.8" />
<path d="M405.7,455 Q411,466 413.6,480" fill="none" stroke="#1a1a1a" stroke-width="1.6" />
<path d="M423.7,458.1 L423.7,483.2 L453.1,483.2" fill="none" stroke="#1a1a1a" stroke-width="1.0" />
<line x1="413.6" y1="491.5" x2="453.1" y2="491.5" stroke="#1a1a1a" stroke-width="0.8" />
<rect x="461.5" y="365.5" width="8" height="14" rx="0" fill="#fff" stroke="#1a1a1a" stroke-width="1.0" />
<line x1="461.7" y1="372.5" x2="469.3" y2="372.5" stroke="#1a1a1a" stroke-width="0.9" />
<line x1="462" y1="366.5" x2="469" y2="366.5" stroke="#1a1a1a" stroke-width="1.2" />
<path d="M469.3,364.2 L472.34,363.2 L472.34,381.6 L469.3,380.6 Z" fill="#fff" stroke="#1a1a1a" stroke-width="0.9" />
<line x1="470.5" y1="363.9" x2="470.5" y2="380.9" stroke="#555" stroke-width="0.6" />
<rect x="461.5" y="444.5" width="8" height="13" rx="0" fill="#fff" stroke="#1a1a1a" stroke-width="1.0" />
<line x1="461.7" y1="451.5" x2="469.3" y2="451.5" stroke="#1a1a1a" stroke-width="0.9" />
<line x1="462" y1="445.5" x2="469" y2="445.5" stroke="#1a1a1a" stroke-width="1.2" />
<path d="M469.3,443.3 L472.34,442.3 L472.34,459.9 L469.3,458.9 Z" fill="#fff" stroke="#1a1a1a" stroke-width="0.9" />
<line x1="470.5" y1="443" x2="470.5" y2="459.2" stroke="#555" stroke-width="0.6" />
<line x1="469.3" y1="366.5" x2="517.7" y2="366.5" stroke="#1a1a1a" stroke-width="1.0" />
<line x1="469.3" y1="457.5" x2="517.7" y2="457.5" stroke="#1a1a1a" stroke-width="1.0" />
<line x1="519.5" y1="373" x2="519.5" y2="450" stroke="#1a1a1a" stroke-width="0.8" />
<rect x="517.5" y="358.5" width="7" height="15" rx="0" fill="#fff" stroke="#1a1a1a" stroke-width="1.0" />
<line x1="517.7" y1="365.5" x2="524.8" y2="365.5" stroke="#1a1a1a" stroke-width="0.9" />
<line x1="518" y1="359.5" x2="524.5" y2="359.5" stroke="#1a1a1a" stroke-width="1.2" />
<path d="M524.8,357.3 L527.64,356.3 L527.64,375.2 L524.8,374.2 Z" fill="#fff" stroke="#1a1a1a" stroke-width="0.9" />
<line x1="526.5" y1="357" x2="526.5" y2="374.5" stroke="#555" stroke-width="0.6" />
<rect x="517.5" y="451.5" width="7" height="14" rx="0" fill="#fff" stroke="#1a1a1a" stroke-width="1.0" />
<line x1="517.7" y1="458.5" x2="524.8" y2="458.5" stroke="#1a1a1a" stroke-width="0.9" />
<line x1="518" y1="451.5" x2="524.5" y2="451.5" stroke="#1a1a1a" stroke-width="1.2" />
<path d="M524.8,449.8 L527.64,448.8 L527.64,467.7 L524.8,466.7 Z" fill="#fff" stroke="#1a1a1a" stroke-width="0.9" />
<line x1="526.5" y1="449.5" x2="526.5" y2="467" stroke="#555" stroke-width="0.6" />
<rect x="528.5" y="336.5" width="17" height="151" rx="0" fill="none" stroke="#1a1a1a" stroke-width="1.0" />
<line x1="536.5" y1="336.2" x2="536.5" y2="487.6" stroke="#1a1a1a" stroke-width="1.0" />
<line x1="360" y1="411.5" x2="546" y2="411.5" stroke="#1a1a1a" stroke-width="1.0" stroke-dasharray="30 4 5 4"/>
<line x1="546" y1="411.5" x2="686" y2="411.5" stroke="#1a1a1a" stroke-width="1.0" stroke-dasharray="40 4 6 4"/>
<rect x="557.5" y="361.5" width="128" height="4" rx="0" fill="#b4b4b4" stroke="#111" stroke-width="1.15" />
<path d="M557,361.16 L549,364.75 Q546.5,366.25 549.5,366.85 L557,365.35" fill="#fff" stroke="#1a1a1a" stroke-width="1.25" />
<rect x="557.5" y="459.5" width="128" height="4" rx="0" fill="#b4b4b4" stroke="#111" stroke-width="1.15" />
<path d="M557,459.15 L549,462.75 Q546.5,464.25 549.5,464.85 L557,463.34" fill="#fff" stroke="#1a1a1a" stroke-width="1.25" />
<rect x="557.5" y="362.5" width="128" height="4" rx="0" fill="#b4b4b4" stroke="#111" stroke-width="1.15" />
<path d="M557,362.42 L549,365.96 Q546.5,367.46 549.5,368.06 L557,366.5" fill="#fff" stroke="#1a1a1a" stroke-width="1.25" />
<rect x="557.5" y="458.5" width="128" height="4" rx="0" fill="#b4b4b4" stroke="#111" stroke-width="1.15" />
<path d="M557,458 L549,461.54 Q546.5,463.04 549.5,463.64 L557,462.08" fill="#fff" stroke="#1a1a1a" stroke-width="1.25" />
<rect x="557.5" y="364.5" width="128" height="4" rx="0" fill="#b4b4b4" stroke="#111" stroke-width="1.15" />
<path d="M557,364.9 L549,368.34 Q546.5,369.84 549.5,370.44 L557,368.78" fill="#fff" stroke="#1a1a1a" stroke-width="1.25" />
<rect x="557.5" y="455.5" width="128" height="4" rx="0" fill="#b4b4b4" stroke="#111" stroke-width="1.15" />
<path d="M557,455.72 L549,459.16 Q546.5,460.66 549.5,461.26 L557,459.6" fill="#fff" stroke="#1a1a1a" stroke-width="1.25" />
<rect x="557.5" y="368.5" width="128" height="4" rx="0" fill="#b4b4b4" stroke="#111" stroke-width="1.15" />
<path d="M557,368.55 L549,371.84 Q546.5,373.34 549.5,373.94 L557,372.13" fill="#fff" stroke="#1a1a1a" stroke-width="1.25" />
<rect x="557.5" y="452.5" width="128" height="3" rx="0" fill="#b4b4b4" stroke="#111" stroke-width="1.15" />
<path d="M557,452.37 L549,455.66 Q546.5,457.16 549.5,457.76 L557,455.95" fill="#fff" stroke="#1a1a1a" stroke-width="1.25" />
<rect x="557.5" y="373.5" width="128" height="3" rx="0" fill="#b4b4b4" stroke="#111" stroke-width="1.15" />
<path d="M557,373.18 L549,376.38 Q546.5,377.88 549.5,378.48 L557,376.58" fill="#fff" stroke="#1a1a1a" stroke-width="1.25" />
<rect x="557.5" y="447.5" width="128" height="4" rx="0" fill="#b4b4b4" stroke="#111" stroke-width="1.15" />
<path d="M557,447.92 L549,451.12 Q546.5,452.62 549.5,453.22 L557,451.32" fill="#fff" stroke="#1a1a1a" stroke-width="1.25" />
<rect x="557.5" y="378.5" width="128" height="4" rx="0" fill="#b4b4b4" stroke="#111" stroke-width="1.15" />
<path d="M557,378.63 L549,381.83 Q546.5,383.33 549.5,383.93 L557,382.03" fill="#fff" stroke="#1a1a1a" stroke-width="1.25" />
<rect x="557.5" y="442.5" width="128" height="3" rx="0" fill="#b4b4b4" stroke="#111" stroke-width="1.15" />
<path d="M557,442.47 L549,445.67 Q546.5,447.17 549.5,447.77 L557,445.87" fill="#fff" stroke="#1a1a1a" stroke-width="1.25" />
<rect x="557.5" y="384.5" width="128" height="4" rx="0" fill="#b4b4b4" stroke="#111" stroke-width="1.15" />
<path d="M557,384.87 L549,388.07 Q546.5,389.57 549.5,390.17 L557,388.27" fill="#fff" stroke="#1a1a1a" stroke-width="1.25" />
<rect x="557.5" y="436.5" width="128" height="3" rx="0" fill="#b4b4b4" stroke="#111" stroke-width="1.15" />
<path d="M557,436.23 L549,439.43 Q546.5,440.93 549.5,441.53 L557,439.63" fill="#fff" stroke="#1a1a1a" stroke-width="1.25" />
<rect x="557.5" y="391.5" width="128" height="4" rx="0" fill="#b4b4b4" stroke="#111" stroke-width="1.15" />
<path d="M557,391.74 L549,394.94 Q546.5,396.44 549.5,397.04 L557,395.14" fill="#fff" stroke="#1a1a1a" stroke-width="1.25" />
<rect x="557.5" y="429.5" width="128" height="3" rx="0" fill="#b4b4b4" stroke="#111" stroke-width="1.15" />
<path d="M557,429.36 L549,432.56 Q546.5,434.06 549.5,434.66 L557,432.76" fill="#fff" stroke="#1a1a1a" stroke-width="1.25" />
<rect x="557.5" y="399.5" width="128" height="3" rx="0" fill="#b4b4b4" stroke="#111" stroke-width="1.15" />
<path d="M557,399.08 L549,402.28 Q546.5,403.78 549.5,404.38 L557,402.48" fill="#fff" stroke="#1a1a1a" stroke-width="1.25" />
<rect x="557.5" y="422.5" width="128" height="3" rx="0" fill="#b4b4b4" stroke="#111" stroke-width="1.15" />
<path d="M557,422.02 L549,425.22 Q546.5,426.72 549.5,427.32 L557,425.42" fill="#fff" stroke="#1a1a1a" stroke-width="1.25" />
<rect x="557.5" y="406.5" width="128" height="4" rx="0" fill="#b4b4b4" stroke="#111" stroke-width="1.15" />
<path d="M557,406.69 L549,409.89 Q546.5,411.39 549.5,411.99 L557,410.09" fill="#fff" stroke="#1a1a1a" stroke-width="1.25" />
<rect x="557.5" y="414.5" width="128" height="3" rx="0" fill="#b4b4b4" stroke="#111" stroke-width="1.15" />
<path d="M557,414.41 L549,417.61 Q546.5,419.11 549.5,419.71 L557,417.81" fill="#fff" stroke="#1a1a1a" stroke-width="1.25" />
<line x1="546" y1="359" x2="546" y2="465.5" stroke="#1a1a1a" stroke-width="2.0" />
<line x1="557" y1="411.5" x2="685.9" y2="411.5" stroke="#555" stroke-width="1.2" />
<line x1="577" y1="411.5" x2="588" y2="411.5" stroke="#fff" stroke-width="1.2" stroke-dasharray="4 3"/>
<line x1="637.6" y1="411.5" x2="648" y2="411.5" stroke="#fff" stroke-width="1.2" stroke-dasharray="4 3"/>
<path d="M574.5,383.2 L574.5,358.6 Q574.5,353.6 579.5,353.6 L668.5,353.6 Q673.5,353.6 673.5,358.6 L673.5,383.2 Z" fill="#fff" stroke="#1a1a1a" stroke-width="1.1" />
<line x1="574.5" y1="366.5" x2="673.5" y2="366.5" stroke="#1a1a1a" stroke-width="1.0" />
<line x1="574.5" y1="372.5" x2="673.5" y2="372.5" stroke="#1a1a1a" stroke-width="1.0" />
<path d="M574.5,440.6 L574.5,464.3 Q574.5,469.3 579.5,469.3 L668.5,469.3 Q673.5,469.3 673.5,464.3 L673.5,440.6 Z" fill="#fff" stroke="#1a1a1a" stroke-width="1.1" />
<line x1="574.5" y1="450.5" x2="673.5" y2="450.5" stroke="#1a1a1a" stroke-width="1.0" />
<line x1="574.5" y1="456.5" x2="673.5" y2="456.5" stroke="#1a1a1a" stroke-width="1.0" />
<circle cx="586.6" cy="362.5" r="2.7" fill="#444" stroke="#1a1a1a" stroke-width="1.3" />
<circle cx="586.6" cy="460.6" r="2.7" fill="#444" stroke="#1a1a1a" stroke-width="1.3" />
<circle cx="665.8" cy="362.5" r="2.7" fill="#444" stroke="#1a1a1a" stroke-width="1.3" />
<circle cx="665.8" cy="460.6" r="2.7" fill="#444" stroke="#1a1a1a" stroke-width="1.3" />
<line x1="586.5" y1="350" x2="586.5" y2="361" stroke="#1a1a1a" stroke-width="1.2" />
<line x1="666.5" y1="350" x2="666.5" y2="361" stroke="#1a1a1a" stroke-width="1.2" />
<line x1="669" y1="360.2" x2="689.6" y2="341.8" stroke="#1a1a1a" stroke-width="0.9" />
<line x1="689.6" y1="341.5" x2="696.9" y2="341.5" stroke="#1a1a1a" stroke-width="1.1" />
<path d="M685.5,361.5 L708,361.5 A23,23 0 0 1 730.5,384 L730.5,440.5 A23,23 0 0 1 708,463.5 L685.5,463.5 Z" fill="#fff" stroke="#1a1a1a" stroke-width="1.1" />
<line x1="708.5" y1="361.5" x2="708.5" y2="463.2" stroke="#1a1a1a" stroke-width="1.0" />
<line x1="685.9" y1="411.5" x2="762.5" y2="411.5" stroke="#1a1a1a" stroke-width="1.0" stroke-dasharray="30 4 6 4"/>
<line x1="711" y1="361.5" x2="762.5" y2="361.5" stroke="#1a1a1a" stroke-width="1.0" />
<line x1="762.5" y1="361.5" x2="792" y2="361.5" stroke="#1a1a1a" stroke-width="0.8" />
<line x1="711" y1="463.5" x2="792" y2="463.5" stroke="#1a1a1a" stroke-width="0.9" />
<line x1="759.5" y1="362.5" x2="759.5" y2="382.5" stroke="#1a1a1a" stroke-width="1.0" />
<line x1="759.5" y1="394.5" x2="759.5" y2="411.9" stroke="#1a1a1a" stroke-width="1.0" />
<line x1="785.5" y1="362.5" x2="785.5" y2="402.8" stroke="#1a1a1a" stroke-width="1.0" />
<line x1="785.5" y1="425" x2="785.5" y2="463.2" stroke="#1a1a1a" stroke-width="1.0" />
<rect x="124.2" y="541.5" width="761.6" height="51.2" rx="0" fill="#00a14b" stroke="none" stroke-width="0" />
<rect x="124.5" y="592.5" width="762" height="28" rx="0" fill="none" stroke="#3f9c5e" stroke-width="1.3" />
<line x1="239.5" y1="592.7" x2="239.5" y2="620" stroke="#3f9c5e" stroke-width="1.3" />
<line x1="366.5" y1="592.7" x2="366.5" y2="620" stroke="#3f9c5e" stroke-width="1.3" />
<line x1="483.5" y1="592.7" x2="483.5" y2="620" stroke="#3f9c5e" stroke-width="1.3" />
<line x1="609.5" y1="592.7" x2="609.5" y2="620" stroke="#3f9c5e" stroke-width="1.3" />
<line x1="727.5" y1="592.7" x2="727.5" y2="620" stroke="#3f9c5e" stroke-width="1.3" />
<line x1="803.5" y1="592.7" x2="803.5" y2="620" stroke="#3f9c5e" stroke-width="1.3" />
<text x="181.9" y="560.3" font-size="13.5" font-weight="bold" text-anchor="middle" fill="#ffffff" stroke="#ffffff" stroke-width="0.35" >A</text>
<text x="299.5" y="560.3" font-size="13.5" font-weight="bold" text-anchor="middle" fill="#ffffff" stroke="#ffffff" stroke-width="0.35" >B</text>
<text x="424.4" y="560.3" font-size="13.5" font-weight="bold" text-anchor="middle" fill="#ffffff" stroke="#ffffff" stroke-width="0.35" >C</text>
<text x="546.6" y="560.3" font-size="13.5" font-weight="bold" text-anchor="middle" fill="#ffffff" stroke="#ffffff" stroke-width="0.35" >D</text>
<text x="667.6" y="560.3" font-size="13.5" font-weight="bold" text-anchor="middle" fill="#ffffff" stroke="#ffffff" stroke-width="0.35" >E</text>
<text x="806.2" y="560.4" font-size="13.5" font-weight="bold" text-anchor="middle" fill="#ffffff" stroke="#ffffff" stroke-width="0.35" textLength="118.7" lengthAdjust="spacingAndGlyphs">Weight - lbs. [kg]</text>
<text x="765" y="586.2" font-size="13.5" font-weight="bold" text-anchor="middle" fill="#ffffff" stroke="#ffffff" stroke-width="0.35" >PP</text>
<text x="845" y="586.2" font-size="13.5" font-weight="bold" text-anchor="middle" fill="#ffffff" stroke="#ffffff" stroke-width="0.35" textLength="40" lengthAdjust="spacingAndGlyphs">PVDF</text>
<text x="130.3" y="611.3" font-size="13.3" font-weight="normal" text-anchor="start" fill="#2b2b2b"  textLength="104.7" lengthAdjust="spacingAndGlyphs">7-23/32&#8243; [19.6 cm]</text>
<text x="252.8" y="611.3" font-size="13.3" font-weight="normal" text-anchor="start" fill="#2b2b2b"  textLength="102.8" lengthAdjust="spacingAndGlyphs">17-7/32&#8243; [43.7 cm]</text>
<text x="380.4" y="611.3" font-size="13.3" font-weight="normal" text-anchor="start" fill="#2b2b2b"  textLength="97.1" lengthAdjust="spacingAndGlyphs">2-15/32&#8243; [6.3 cm]</text>
<text x="493.2" y="611.3" font-size="13.3" font-weight="normal" text-anchor="start" fill="#2b2b2b"  textLength="109.5" lengthAdjust="spacingAndGlyphs">4-29/32&#8243; [ 12.5 cm]</text>
<text x="618.5" y="611.3" font-size="13.3" font-weight="normal" text-anchor="start" fill="#2b2b2b"  textLength="95" lengthAdjust="spacingAndGlyphs">3-5/32&#8243; [ 8.0 cm]</text>
<text x="741" y="611.3" font-size="13.3" font-weight="normal" text-anchor="start" fill="#2b2b2b"  textLength="48.8" lengthAdjust="spacingAndGlyphs">14.0 [6.4]</text>
<text x="822" y="611.3" font-size="13.3" font-weight="normal" text-anchor="start" fill="#2b2b2b"  textLength="48.8" lengthAdjust="spacingAndGlyphs">15.0 [6.8]</text>
</svg>
</body></html>
